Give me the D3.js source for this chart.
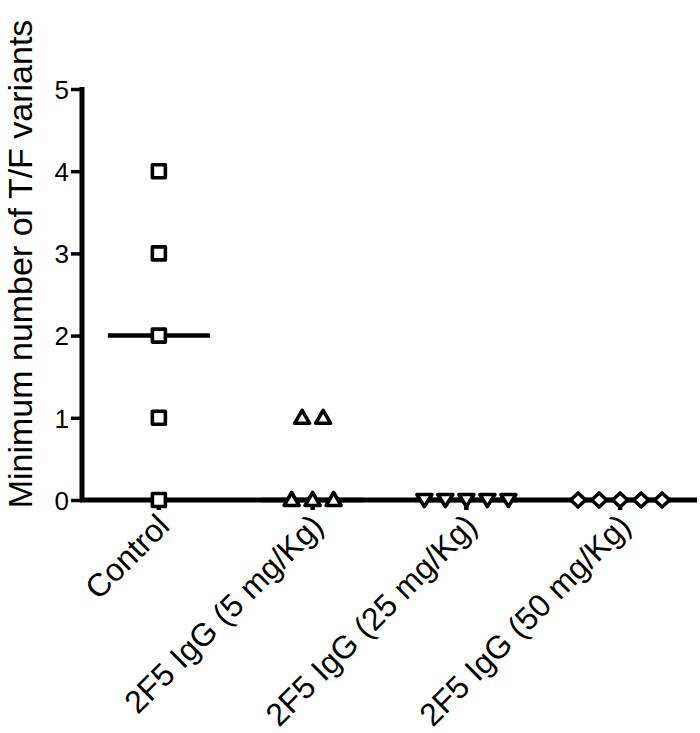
<!DOCTYPE html>
<html>
<head>
<meta charset="utf-8">
<script src="https://cdn.jsdelivr.net/npm/d3@7/dist/d3.min.js"></script>
<style>
  body { margin: 0; background: #fff; }
  svg { display: block; font-family: "Liberation Sans", Arial, sans-serif; }
</style>
</head>
<body>
<svg id="chart" width="700" height="733"></svg>
<script>
// ---- data ----
const categories = ["Control", "2F5 IgG (5 mg/Kg)", "2F5 IgG (25 mg/Kg)", "2F5 IgG (50 mg/Kg)"];
const controlValues = [0, 1, 2, 3, 4];
const igg5Values = [1, 1, 0, 0, 0];
const igg25Values = [0, 0, 0, 0, 0];
const igg50Values = [0, 0, 0, 0, 0];
const medians = [2, 0, 0, 0];
const yTicks = [0, 1, 2, 3, 4, 5];
const yTitle = "Minimum number of T/F variants";
const shapes = ["square", "triUp", "triDown", "diamond"];

const groups = [controlValues, igg5Values, igg25Values, igg50Values];

// ---- layout ----
const svg = d3.select("#chart");
const mLeft = 82, mRight = 697, mTop = 89, mBottom = 500;

const x = d3.scalePoint().domain(categories).range([mLeft, mRight]).padding(0.5);
const y = d3.scaleLinear().domain([0, 5]).range([mBottom, mTop]);

// y axis
const yAxis = svg.append("g")
  .attr("transform", `translate(${mLeft},0)`)
  .call(d3.axisLeft(y).tickValues(yTicks).tickSize(11).tickSizeOuter(0).tickPadding(2).tickFormat(d3.format("d")));
yAxis.select(".domain").attr("stroke", "#000").attr("stroke-width", 5).attr("d", `M0,${mTop - 2}V${mBottom + 2}`);
yAxis.selectAll(".tick line").attr("stroke", "#000").attr("stroke-width", 3.5);
yAxis.selectAll(".tick text").attr("fill", "#000").style("font-size", "26px").attr("dy", "0.36em");

// x axis
const xAxis = svg.append("g")
  .attr("transform", `translate(0,${mBottom})`)
  .call(d3.axisBottom(x).tickSize(0).tickSizeOuter(0).tickPadding(0));
xAxis.select(".domain").attr("stroke", "#000").attr("stroke-width", 5).attr("d", `M${mLeft - 2},0H${mRight}`);
xAxis.selectAll(".tick text")
  .attr("fill", "#000")
  .style("font-size", "32px")
  .attr("text-anchor", "end")
  .attr("dy", "0")
  .attr("transform", "translate(12,28) rotate(-45)");

// y title
svg.append("text")
  .attr("transform", `translate(32,264) rotate(-90)`)
  .attr("text-anchor", "middle")
  .style("font-size", "34px")
  .attr("fill", "#000")
  .text(yTitle);

// points with spread for ties
const spacing = 21;
function symbolPath(shape) {
  if (shape === "square") return "M-6.5,-6.5H6.5V6.5H-6.5Z";
  if (shape === "triUp") return "M0,-7.5L7.5,5.5H-7.5Z";
  if (shape === "triDown") return "M0,6.5L7.5,-5.5H-7.5Z";
  return "M0,-7L7.5,0L0,7L-7.5,0Z";
}

groups.forEach((vals, gi) => {
  const cx = x(categories[gi]);
  const counts = d3.rollup(vals, v => v.length, d => d);
  const seen = new Map();
  const pts = vals.map(v => {
    const n = counts.get(v);
    const k = seen.get(v) || 0;
    seen.set(v, k + 1);
    return { v, dx: (k - (n - 1) / 2) * spacing };
  });
  const g = svg.append("g");
  g.append("line")
    .attr("x1", cx - 51).attr("x2", cx + 51)
    .attr("y1", y(medians[gi])).attr("y2", y(medians[gi]))
    .attr("stroke", "#000").attr("stroke-width", 4.5);
  g.append("line")
    .attr("x1", cx).attr("x2", cx)
    .attr("y1", y(0)).attr("y2", y(0) + 10)
    .attr("stroke", "#000").attr("stroke-width", 4.5);
  g.selectAll("path.pt").data(pts).join("path")
    .attr("class", "pt")
    .attr("transform", d => `translate(${cx + d.dx},${y(d.v)})`)
    .attr("d", symbolPath(shapes[gi]))
    .attr("fill", "#fff")
    .attr("stroke", "#000")
    .attr("stroke-width", 3.6)
    .attr("stroke-linejoin", "round");
});
</script>
</body>
</html>
